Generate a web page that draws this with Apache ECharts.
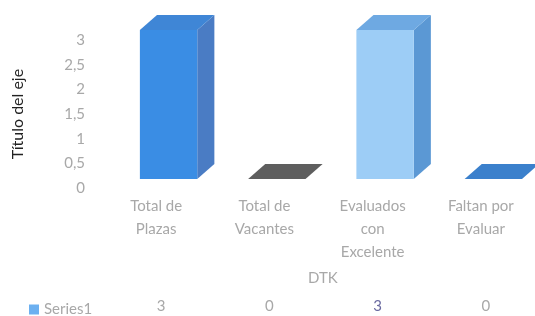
<!DOCTYPE html>
<html>
<head>
<meta charset="utf-8">
<script src="https://cdn.jsdelivr.net/npm/echarts@6/dist/echarts.min.js"></script>
<style>
  html, body { margin: 0; padding: 0; background: #fff; }
  #chart { width: 535px; height: 316px; }
</style>
</head>
<body>
<div id="chart"></div>
<script>
// datos
const categories = ['Total de\nPlazas', 'Total de\nVacantes', 'Evaluados\ncon\nExcelente', 'Faltan por\nEvaluar'];
const seriesName = 'Series1';
const seriesValues = [3, 0, 3, 0];
const yTicks = [0, 0.5, 1, 1.5, 2, 2.5, 3];

// colores de cada barra: frente, lado, tapa
const barColors = [
    { front: '#3a8de4', side: '#4a7cc4', top: '#3f86d6' },
    { front: '#5c5c5c', side: '#4a4a4a', top: '#5e5e5e' },
    { front: '#9dcdf6', side: '#5b98d4', top: '#6ea9e2' },
    { front: '#3b80cc', side: '#2f6cb0', top: '#3b80cc' }
];
const labelColor = '#a8a8a8';
const font = 'Lato, "Open Sans", sans-serif';

let chart = echarts.init(document.getElementById('chart'));

function renderBox(params, api) {
    let idx = api.value(0);
    let top = api.coord([idx, api.value(1)]);
    let base = api.coord([idx, 0]);
    let band = api.size([1, 0])[0];
    let shiftY = -9;
    let x0 = top[0] - band * 0.15;
    let w = band * 0.53;
    let dx = band * 0.158;
    let dy = 15;
    let yb = base[1] + shiftY;
    let yt = top[1] + shiftY - 1;
    let c = barColors[idx];
    let children = [];
    if (yb - yt > 1.5) {
        children.push({
            type: 'polygon',
            shape: { points: [[x0 + w, yb], [x0 + w + dx, yb - dy], [x0 + w + dx, yt - dy], [x0 + w, yt]] },
            style: { fill: c.side }
        });
        children.push({
            type: 'rect',
            shape: { x: x0, y: yt, width: w, height: yb - yt },
            style: { fill: c.front }
        });
    } else {
        yt = yb;
    }
    children.push({
        type: 'polygon',
        shape: { points: [[x0, yt], [x0 + w, yt], [x0 + w + dx, yt - dy], [x0 + dx, yt - dy]] },
        style: { fill: c.top }
    });
    return { type: 'group', children: children };
}

function renderTable(params, api) {
    let idx = api.value(0);
    let p = api.coord([idx, 0]);
    return {
        type: 'text',
        style: {
            x: p[0] + 5,
            y: 306,
            text: String(api.value(1)),
            fill: idx === 2 ? '#6a6aa0' : labelColor,
            font: '15px ' + font,
            align: 'center',
            verticalAlign: 'middle'
        }
    };
}

let option = {
    animation: false,
    backgroundColor: '#fff',
    grid: { left: 102, right: -7, top: 40, bottom: 128, containLabel: false },
    legend: {
        data: [seriesName],
        left: 24,
        top: 297,
        itemWidth: 10,
        itemHeight: 10,
        itemGap: 5,
        icon: 'rect',
        textStyle: { color: labelColor, fontSize: 15, fontFamily: font }
    },
    xAxis: {
        type: 'category',
        data: categories,
        axisLine: { show: false },
        axisTick: { show: false },
        splitLine: { show: false },
        axisLabel: {
            interval: 0,
            margin: 7,
            color: labelColor,
            fontSize: 15,
            lineHeight: 23,
            fontFamily: font
        }
    },
    yAxis: {
        type: 'value',
        min: yTicks[0],
        max: yTicks[yTicks.length - 1],
        interval: 0.5,
        name: 'Título del eje',
        nameLocation: 'middle',
        nameGap: 76,
        nameTextStyle: { color: '#222', fontSize: 16, fontFamily: font },
        axisLine: { show: false },
        axisTick: { show: false },
        splitLine: { show: false },
        axisLabel: {
            margin: 17,
            color: labelColor,
            fontSize: 15,
            fontFamily: font,
            formatter: v => String(v).replace('.', ',')
        }
    },
    graphic: [{
        type: 'text',
        left: 308,
        top: 271,
        style: { text: 'DTK', fill: labelColor, font: '15px ' + font }
    }],
    series: [
        {
            name: seriesName,
            type: 'custom',
            itemStyle: { color: '#6cb0f0' },
            renderItem: renderBox,
            encode: { x: 0, y: 1 },
            data: seriesValues.map((v, i) => [i, v])
        },
        {
            name: 'tabla',
            type: 'custom',
            silent: true,
            renderItem: renderTable,
            data: seriesValues.map((v, i) => [i, v])
        }
    ]
};

chart.setOption(option);
window.addEventListener('resize', function () { chart.resize(); });
</script>
</body>
</html>
